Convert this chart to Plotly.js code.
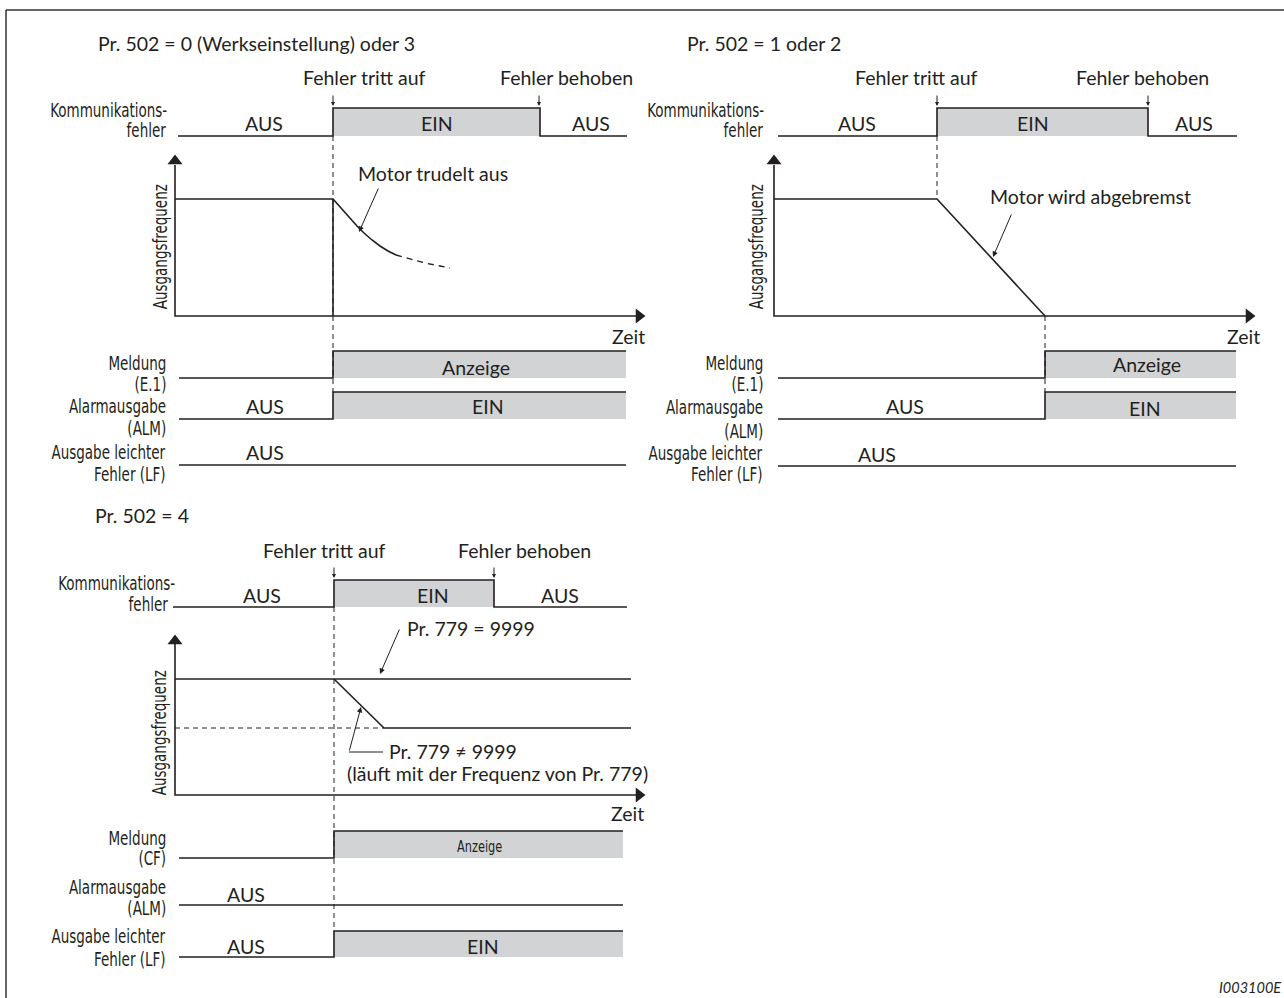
<!DOCTYPE html>
<html>
<head>
<meta charset="utf-8">
<script src="https://cdn.plot.ly/plotly-3.0.1.min.js"></script>
<style>
html,body{margin:0;padding:0;background:#fff;}
#chart{width:1284px;height:998px;}
</style>
</head>
<body>
<div id="chart"></div>
<script>
// ---------------- data (diagram coordinates: x = time position, y = signal level position) ----------------
// Panel A : Pr. 502 = 0 (Werkseinstellung) oder 3
const A_comm_x = [178, 333, 333, 540, 540, 627];
const A_comm_y = [136, 136, 108, 108, 136, 136];
const A_comm_band_x = [333, 540];
const A_comm_band_y = [108, 136];
const A_axis_x = [175, 175, 640];
const A_axis_y = [165, 316, 316];
const A_freq_x = [175, 333, 333];
const A_freq_y = [199, 199, 316];
const A_coast_x = [333, 339, 345, 351, 357, 364, 372, 380, 388, 396];
const A_coast_y = [199, 206, 213, 220, 226, 233, 240, 246, 251, 255];
const A_coastDash_x = [396, 410, 425, 440, 450];
const A_coastDash_y = [255, 259, 263, 266, 268];
const A_event_x = [333, 333];
const A_event_y = [136, 392];
const A_mel_x = [179, 333, 333, 626];
const A_mel_y = [378, 378, 351, 351];
const A_mel_band_x = [333, 626];
const A_mel_band_y = [351, 378];
const A_alm_x = [179, 333, 333, 626];
const A_alm_y = [419, 419, 392, 392];
const A_alm_band_x = [333, 626];
const A_alm_band_y = [392, 419];
const A_lf_x = [179, 626];
const A_lf_y = [465, 465];

// Panel B : Pr. 502 = 1 oder 2
const B_comm_x = [778, 937, 937, 1148, 1148, 1237];
const B_comm_y = [136, 136, 108, 108, 136, 136];
const B_comm_band_x = [937, 1148];
const B_comm_band_y = [108, 136];
const B_axis_x = [774, 774, 1250];
const B_axis_y = [165, 316, 316];
const B_freq_x = [774, 937, 1045];
const B_freq_y = [199, 199, 316];
const B_event1_x = [937, 937];
const B_event1_y = [136, 199];
const B_event2_x = [1045, 1045];
const B_event2_y = [316, 392];
const B_mel_x = [778, 1045, 1045, 1236];
const B_mel_y = [378, 378, 351, 351];
const B_mel_band_x = [1045, 1236];
const B_mel_band_y = [351, 378];
const B_alm_x = [778, 1045, 1045, 1236];
const B_alm_y = [419, 419, 392, 392];
const B_alm_band_x = [1045, 1236];
const B_alm_band_y = [392, 419];
const B_lf_x = [778, 1236];
const B_lf_y = [466, 466];

// Panel C : Pr. 502 = 4
const C_comm_x = [173, 334, 334, 494, 494, 627];
const C_comm_y = [607, 607, 580, 580, 607, 607];
const C_comm_band_x = [334, 494];
const C_comm_band_y = [580, 607];
const C_axis_x = [175, 175, 640];
const C_axis_y = [644, 795, 795];
const C_freqHold_x = [175, 631];
const C_freqHold_y = [679, 679];
const C_freqRamp_x = [334, 384, 631];
const C_freqRamp_y = [679, 728, 728];
const C_freqRef_x = [175, 384];
const C_freqRef_y = [728, 728];
const C_event_x = [334, 334];
const C_event_y = [607, 931];
const C_mel_x = [179, 334, 334, 623];
const C_mel_y = [858, 858, 831, 831];
const C_mel_band_x = [334, 623];
const C_mel_band_y = [831, 858];
const C_alm_x = [179, 623];
const C_alm_y = [905, 905];
const C_lf_x = [179, 334, 334, 623];
const C_lf_y = [957, 957, 931, 931];
const C_lf_band_x = [334, 623];
const C_lf_band_y = [931, 957];
const C_leader_x = [383, 349];
const C_leader_y = [752, 752];

// axis arrow heads
const arrowUp_x = [175, 774, 175];
const arrowUp_y = [161, 161, 641];
const arrowRight_x = [639, 1249, 639];
const arrowRight_y = [316, 316, 795];

// pointer arrows [tipX, tipY, tailX, tailY]
const pointers = [
  [359, 232, 379, 187],
  [993, 257, 1012, 213],
  [380, 674, 400, 628],
  [361, 707, 349, 752]
];
// event tick arrows (x, yTop, yBottom)
const ticks = [
  [333, 94, 106], [539, 94, 106],
  [937, 94, 106], [1148, 94, 106],
  [334, 566, 578], [494, 566, 578]
];

// text labels: [text, x, y, xanchor, style]
const labels = [
  ['Pr. 502 = 0 (Werkseinstellung) oder 3', 96, 43, 'left', 'M'],
  ['Fehler tritt auf', 364, 77, 'center', 'M'],
  ['Fehler behoben', 566, 77, 'center', 'M'],
  ['Kommunikations-', 169, 110, 'right', 'C'],
  ['fehler', 169, 130, 'right', 'C'],
  ['AUS', 264, 123, 'center', 'M'],
  ['EIN', 437, 123, 'center', 'M'],
  ['AUS', 591, 123, 'center', 'M'],
  ['Motor trudelt aus', 356, 173, 'left', 'M'],
  ['Zeit', 628, 336, 'center', 'M'],
  ['Meldung', 168, 363, 'right', 'C'],
  ['(E.1)', 168, 384, 'right', 'C'],
  ['Anzeige', 476, 367, 'center', 'M'],
  ['Alarmausgabe', 168, 406, 'right', 'C'],
  ['(ALM)', 168, 428, 'right', 'C'],
  ['AUS', 265, 406, 'center', 'M'],
  ['EIN', 488, 406, 'center', 'M'],
  ['Ausgabe leichter', 168, 452, 'right', 'C'],
  ['Fehler (LF)', 168, 474, 'right', 'C'],
  ['AUS', 265, 452, 'center', 'M'],

  ['Pr. 502 = 1 oder 2', 685, 43, 'left', 'M'],
  ['Fehler tritt auf', 916, 77, 'center', 'M'],
  ['Fehler behoben', 1142, 77, 'center', 'M'],
  ['Kommunikations-', 766, 110, 'right', 'C'],
  ['fehler', 766, 130, 'right', 'C'],
  ['AUS', 857, 123, 'center', 'M'],
  ['EIN', 1033, 123, 'center', 'M'],
  ['AUS', 1194, 123, 'center', 'M'],
  ['Motor wird abgebremst', 988, 196, 'left', 'M'],
  ['Zeit', 1243, 336, 'center', 'M'],
  ['Meldung', 765, 363, 'right', 'C'],
  ['(E.1)', 765, 384, 'right', 'C'],
  ['Anzeige', 1147, 364, 'center', 'M'],
  ['Alarmausgabe', 765, 407, 'right', 'C'],
  ['(ALM)', 765, 431, 'right', 'C'],
  ['AUS', 905, 406, 'center', 'M'],
  ['EIN', 1145, 408, 'center', 'M'],
  ['Ausgabe leichter', 765, 453, 'right', 'C'],
  ['Fehler (LF)', 765, 474, 'right', 'C'],
  ['AUS', 877, 454, 'center', 'M'],

  ['Pr. 502 = 4', 93, 515, 'left', 'M'],
  ['Fehler tritt auf', 324, 550, 'center', 'M'],
  ['Fehler behoben', 524, 550, 'center', 'M'],
  ['Kommunikations-', 177, 583, 'right', 'C'],
  ['fehler', 171, 604, 'right', 'C'],
  ['AUS', 262, 595, 'center', 'M'],
  ['EIN', 433, 595, 'center', 'M'],
  ['AUS', 560, 595, 'center', 'M'],
  ['Pr. 779 = 9999', 405, 628, 'left', 'M'],
  ['Pr. 779 \u2260 9999', 387, 751, 'left', 'M'],
  ['(läuft mit der Frequenz von Pr. 779)', 345, 773, 'left', 'M'],
  ['Zeit', 627, 813, 'center', 'M'],
  ['Meldung', 168, 838, 'right', 'C'],
  ['(CF)', 168, 858, 'right', 'C'],
  ['Anzeige', 480, 846, 'center', 'S'],
  ['Alarmausgabe', 168, 887, 'right', 'C'],
  ['(ALM)', 168, 908, 'right', 'C'],
  ['AUS', 246, 894, 'center', 'M'],
  ['Ausgabe leichter', 168, 936, 'right', 'C'],
  ['Fehler (LF)', 168, 959, 'right', 'C'],
  ['AUS', 246, 946, 'center', 'M'],
  ['EIN', 483, 946, 'center', 'M']
];
// rotated y-axis titles: [text, x, y]
const yTitles = [
  ['Ausgangsfrequenz', 160, 247],
  ['Ausgangsfrequenz', 756, 247],
  ['Ausgangsfrequenz', 159, 733]
];
const footer = ['I003100E', 1283, 987];

// ---------------- drawing ----------------
const INK = '#231f20';
const GRAY = '#d1d3d4';
const MAIN_FONT = 'Lato, "Open Sans", sans-serif';
const COND_FONT = '"DejaVu Sans Condensed", "Liberation Sans Narrow", "DejaVu Sans", sans-serif';
const COND_SCALE = 0.79;

const traces = [];
function band(bx, by) {
  traces.push({type:'scatter', mode:'lines', x:[bx[0], bx[1], bx[1], bx[0], bx[0]],
    y:[by[0], by[0], by[1], by[1], by[0]], fill:'toself', fillcolor:GRAY,
    line:{width:0, color:GRAY}, hoverinfo:'skip'});
}
function line(x, y, dash, w) {
  traces.push({type:'scatter', mode:'lines', x:x, y:y,
    line:{color:INK, width:w || 1.6, dash:dash || 'solid'}, hoverinfo:'skip'});
}

band(A_comm_band_x, A_comm_band_y); band(A_mel_band_x, A_mel_band_y); band(A_alm_band_x, A_alm_band_y);
band(B_comm_band_x, B_comm_band_y); band(B_mel_band_x, B_mel_band_y); band(B_alm_band_x, B_alm_band_y);
band(C_comm_band_x, C_comm_band_y); band(C_mel_band_x, C_mel_band_y); band(C_lf_band_x, C_lf_band_y);

const DASH = '5px,4px';
line(A_event_x, A_event_y, DASH, 1);
line(B_event1_x, B_event1_y, DASH, 1);
line(B_event2_x, B_event2_y, DASH, 1);
line(C_event_x, C_event_y, DASH, 1);
line(C_freqRef_x, C_freqRef_y, DASH, 1);

line(A_comm_x, A_comm_y); line(A_axis_x, A_axis_y); line(A_freq_x, A_freq_y);
line(A_coast_x, A_coast_y); line(A_coastDash_x, A_coastDash_y, '6px,5px', 1.3);
line(A_mel_x, A_mel_y); line(A_alm_x, A_alm_y); line(A_lf_x, A_lf_y);
line(B_comm_x, B_comm_y); line(B_axis_x, B_axis_y); line(B_freq_x, B_freq_y);
line(B_mel_x, B_mel_y); line(B_alm_x, B_alm_y); line(B_lf_x, B_lf_y);
line(C_comm_x, C_comm_y); line(C_axis_x, C_axis_y); line(C_freqHold_x, C_freqHold_y);
line(C_freqRamp_x, C_freqRamp_y); line(C_mel_x, C_mel_y); line(C_alm_x, C_alm_y); line(C_lf_x, C_lf_y);
line(C_leader_x, C_leader_y, 'solid', 1);

traces.push({type:'scatter', mode:'markers', x:arrowUp_x, y:arrowUp_y,
  marker:{symbol:'triangle-up', size:13, color:INK, line:{width:0}}, hoverinfo:'skip'});
traces.push({type:'scatter', mode:'markers', x:arrowRight_x, y:arrowRight_y,
  marker:{symbol:'triangle-right', size:13, color:INK, line:{width:0}}, hoverinfo:'skip'});

const annotations = [];
const squeeze = {};   // annotation index -> transform origin
pointers.forEach(p => annotations.push({x:p[0], y:p[1], ax:p[2], ay:p[3], xref:'x', yref:'y',
  axref:'x', ayref:'y', text:'', showarrow:true, arrowhead:2, arrowsize:1.1, arrowwidth:1, arrowcolor:INK}));
ticks.forEach(t => annotations.push({x:t[0], y:t[2], ax:t[0], ay:t[1], xref:'x', yref:'y',
  axref:'x', ayref:'y', text:'', showarrow:true, arrowhead:2, arrowsize:0.8, arrowwidth:1, arrowcolor:INK}));

labels.forEach(l => {
  let font;
  if (l[4] === 'C') font = {family:COND_FONT, size:19, color:INK};
  else if (l[4] === 'S') font = {family:COND_FONT, size:16, color:INK};
  else font = {family:MAIN_FONT, size:19.5, color:INK};
  if (l[4] !== 'M') squeeze[annotations.length] = (l[3] === 'right') ? 'right center' : (l[3] === 'left' ? 'left center' : 'center center');
  annotations.push({x:l[1], y:l[2], xref:'x', yref:'y', text:l[0], showarrow:false,
    xanchor:l[3], yanchor:'middle', font:font});
});
yTitles.forEach(t => {
  squeeze[annotations.length] = 'center center';
  annotations.push({x:t[1], y:t[2], xref:'x', yref:'y', text:t[0], showarrow:false,
    textangle:-90, xanchor:'center', yanchor:'middle', font:{family:COND_FONT, size:19, color:INK}});
});
annotations.push({x:footer[1], y:footer[2], xref:'x', yref:'y', text:'<i>' + footer[0] + '</i>',
  showarrow:false, xanchor:'right', yanchor:'middle', font:{family:MAIN_FONT, size:14.5, color:INK}});

const layout = {
  width:1284, height:998,
  margin:{l:0, r:0, t:0, b:0, pad:0},
  paper_bgcolor:'#ffffff', plot_bgcolor:'#ffffff',
  showlegend:false,
  xaxis:{range:[0, 1284], visible:false, fixedrange:true},
  yaxis:{range:[998, 0], visible:false, fixedrange:true},
  annotations:annotations,
  shapes:[
    {type:'line', xref:'paper', yref:'paper', x0:6/1284, x1:1, y0:1 - 10/998, y1:1 - 10/998, line:{color:'#333', width:1.5}},
    {type:'line', xref:'paper', yref:'paper', x0:6/1284, x1:6/1284, y0:1 - 10/998, y1:0, line:{color:'#333', width:1.5}}
  ]
};
Plotly.newPlot('chart', traces, layout, {displayModeBar:false, staticPlot:true}).then(gd => {
  gd.querySelectorAll('g.annotation').forEach(g => {
    const idx = +g.getAttribute('data-index');
    if (!(idx in squeeze)) return;
    const t = g.querySelector('text.annotation-text');
    if (!t) return;
    t.style.transformBox = 'fill-box';
    t.style.transformOrigin = squeeze[idx];
    t.style.transform = 'scaleX(' + COND_SCALE + ')';
  });
});
</script>
</body>
</html>
